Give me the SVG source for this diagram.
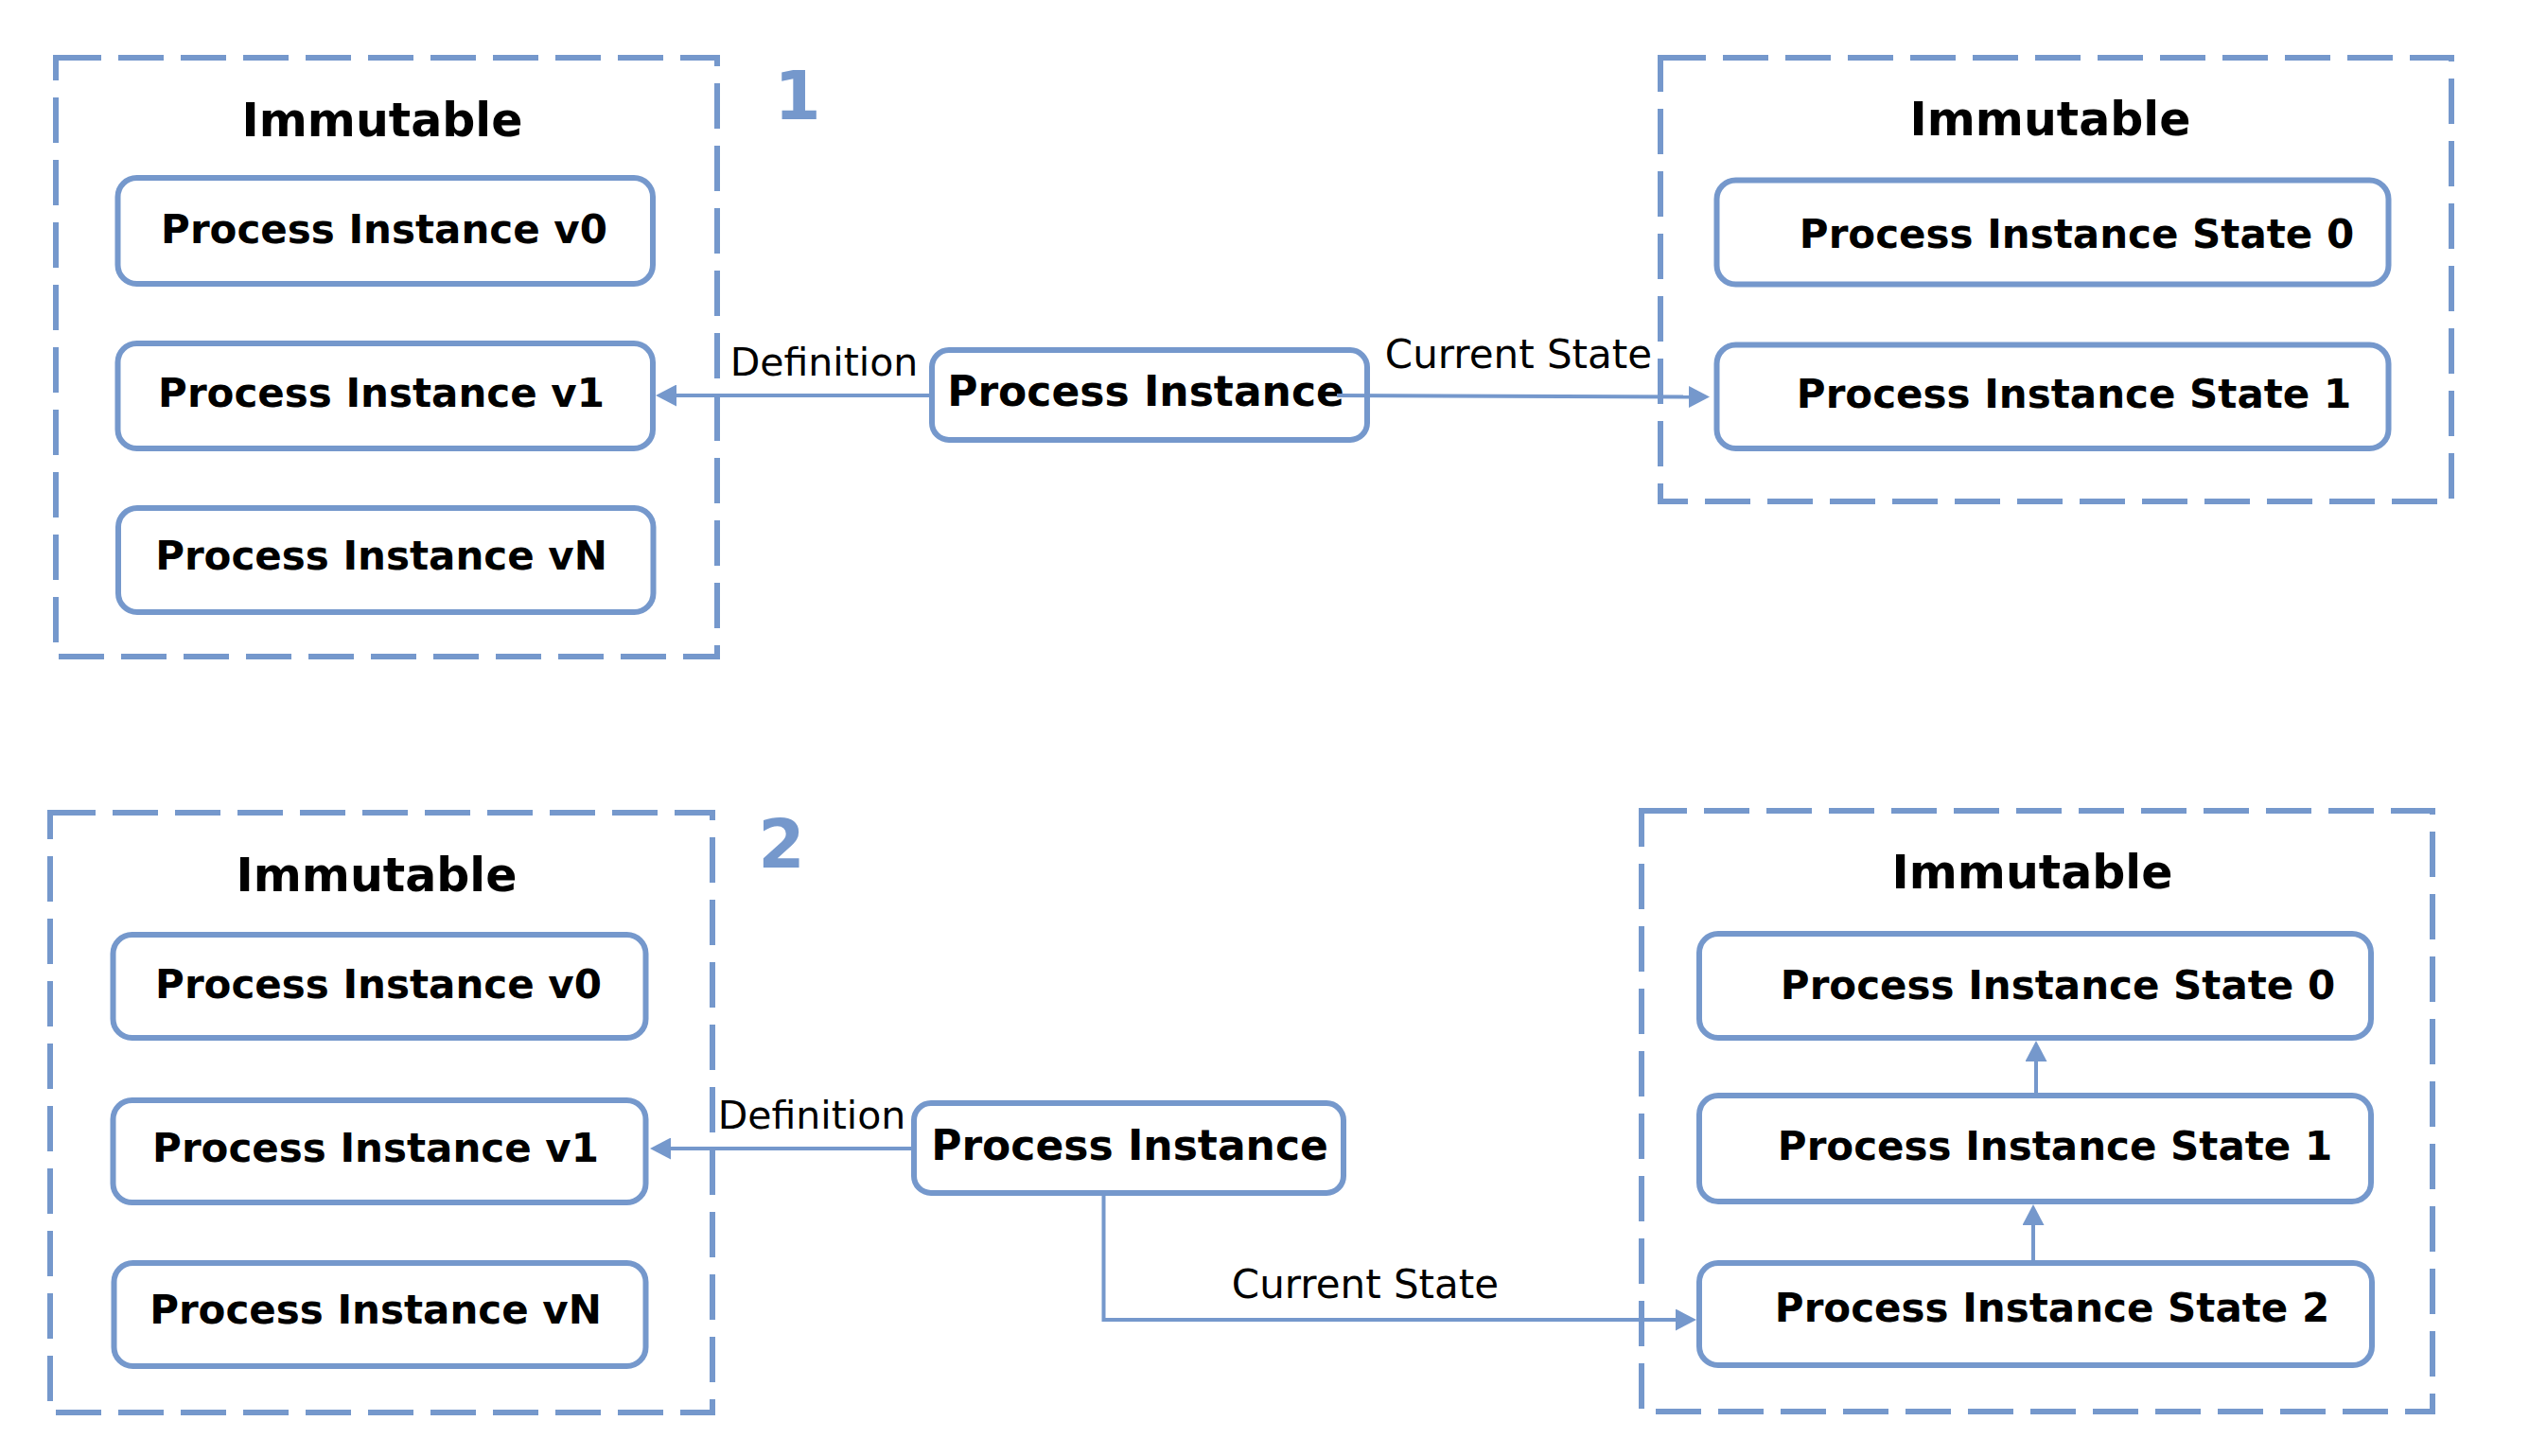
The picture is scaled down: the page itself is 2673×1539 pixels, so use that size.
<svg xmlns="http://www.w3.org/2000/svg" width="2673" height="1539" viewBox="0 0 2673 1539">
  <defs>
    <style>
      .group { fill: none; stroke: #7598CC; stroke-width: 6; stroke-dasharray: 48 18; }
      .node { fill: #FFFFFF; stroke: #7598CC; stroke-width: 6; }
      .title { font-family: "DejaVu Sans", Verdana, sans-serif; font-weight: bold; font-size: 49px; fill: #000000; text-anchor: middle; }
      .label { font-family: "DejaVu Sans", Verdana, sans-serif; font-weight: bold; font-size: 42px; fill: #000000; text-anchor: middle; }
      .label44 { font-family: "DejaVu Sans", Verdana, sans-serif; font-weight: bold; font-size: 44px; fill: #000000; text-anchor: middle; }
      .elabel { font-family: "DejaVu Sans", Verdana, sans-serif; font-size: 41px; fill: #000000; text-anchor: middle; }
      .num { font-family: "DejaVu Sans", Verdana, sans-serif; font-weight: bold; font-size: 71px; fill: #7598CC; text-anchor: middle; }
      .edge { fill: none; stroke: #7598CC; stroke-width: 4; }
    </style>
    <marker id="arrow" markerUnits="userSpaceOnUse" viewBox="0 0 22 23" refX="0" refY="11.5" markerWidth="22" markerHeight="23" orient="auto">
      <path d="M0,0 L22,11.5 L0,23 Z" fill="#7598CC"/>
    </marker>
  </defs>
  <rect width="2673" height="1539" fill="#FFFFFF"/>

  <!-- Section numbers -->
  <text class="num" x="843" y="126">1</text>
  <text class="num" x="826" y="917">2</text>

  <!-- Section 1 -->
  <g id="immutable-defs-1">
    <rect class="group" x="59" y="61" width="699" height="633"/>
    <text class="title" x="404" y="144">Immutable</text>
  </g>
  <g id="pi-v0-1">
    <rect class="node" x="124.5" y="188" width="565.5" height="112" rx="20"/>
    <text class="label" x="406" y="257">Process Instance v0</text>
  </g>
  <g id="pi-v1-1">
    <rect class="node" x="124.5" y="363" width="565.5" height="111" rx="20"/>
    <text class="label" x="403" y="430">Process Instance v1</text>
  </g>
  <g id="pi-vN-1">
    <rect class="node" x="125" y="537" width="565.5" height="110" rx="20"/>
    <text class="label" x="403" y="602">Process Instance vN</text>
  </g>
  <g id="pi-1">
    <rect class="node" x="985" y="370" width="460" height="95" rx="18"/>
    <text class="label44" x="1211" y="429">Process Instance</text>
  </g>
  <g id="immutable-states-1">
    <rect class="group" x="1755" y="61" width="836" height="469"/>
    <text class="title" x="2167" y="143">Immutable</text>
  </g>
  <g id="state0-1">
    <rect class="node" x="1814.5" y="190.5" width="710" height="110" rx="20"/>
    <text class="label" x="2195" y="262">Process Instance State 0</text>
  </g>
  <g id="state1-1">
    <rect class="node" x="1814.5" y="364.5" width="710" height="109.5" rx="20"/>
    <text class="label" x="2192" y="431">Process Instance State 1</text>
  </g>

  <!-- Section 2 -->
  <g id="immutable-defs-2">
    <rect class="group" x="53" y="859" width="700" height="634"/>
    <text class="title" x="398" y="942">Immutable</text>
  </g>
  <g id="pi-v0-2">
    <rect class="node" x="119.5" y="988" width="563" height="109" rx="20"/>
    <text class="label" x="400" y="1055">Process Instance v0</text>
  </g>
  <g id="pi-v1-2">
    <rect class="node" x="119.5" y="1163" width="563" height="108" rx="20"/>
    <text class="label" x="397" y="1228">Process Instance v1</text>
  </g>
  <g id="pi-vN-2">
    <rect class="node" x="120.5" y="1335" width="562" height="109" rx="20"/>
    <text class="label" x="397" y="1399">Process Instance vN</text>
  </g>
  <g id="pi-2">
    <rect class="node" x="966" y="1166" width="454" height="95" rx="18"/>
    <text class="label44" x="1194" y="1226">Process Instance</text>
  </g>
  <g id="immutable-states-2">
    <rect class="group" x="1735" y="857" width="836" height="635"/>
    <text class="title" x="2148" y="939">Immutable</text>
  </g>
  <g id="state0-2">
    <rect class="node" x="1796" y="987" width="710" height="110" rx="20"/>
    <text class="label" x="2175" y="1056">Process Instance State 0</text>
  </g>
  <g id="state1-2">
    <rect class="node" x="1796" y="1158" width="710" height="112" rx="20"/>
    <text class="label" x="2172" y="1226">Process Instance State 1</text>
  </g>
  <g id="state2-2">
    <rect class="node" x="1796" y="1335" width="711" height="108" rx="20"/>
    <text class="label" x="2169" y="1397">Process Instance State 2</text>
  </g>

  <!-- Connectors -->
  <g id="connectors">
    <path class="edge" d="M982,418 H715" marker-end="url(#arrow)"/>
    <text class="elabel" x="871" y="397">Definition</text>
    <path class="edge" d="M1413,418 L1785,419.5" marker-end="url(#arrow)"/>
    <text class="elabel" x="1605" y="389" style="font-size:42px">Current State</text>

    <path class="edge" d="M963,1214 H709" marker-end="url(#arrow)"/>
    <text class="elabel" x="858" y="1193">Definition</text>
    <path class="edge" d="M1166.5,1261 V1395 H1771" marker-end="url(#arrow)"/>
    <text class="elabel" x="1443" y="1372" style="font-size:42px">Current State</text>

    <path class="edge" d="M2152,1158 V1122" marker-end="url(#arrow)"/>
    <path class="edge" d="M2149,1332 V1295" marker-end="url(#arrow)"/>
  </g>
</svg>
